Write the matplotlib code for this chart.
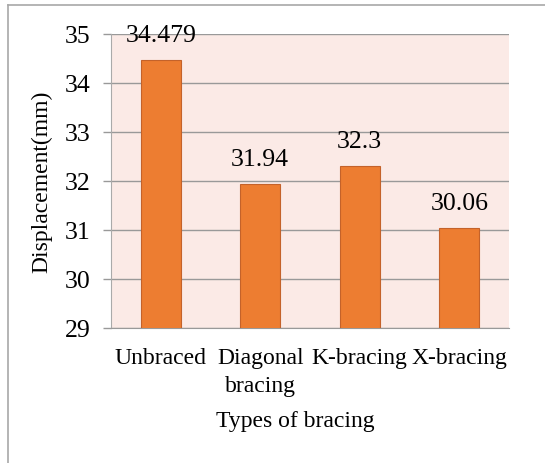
import matplotlib
matplotlib.use("Agg")
import matplotlib.pyplot as plt
from matplotlib.lines import Line2D

categories = ["Unbraced", "Diagonal\nbracing", "K-bracing", "X-bracing"]
values = [34.479, 31.94, 32.3, 31.05]
value_labels = ["34.479", "31.94", "32.3", "30.06"]
yticks = [29, 30, 31, 32, 33, 34, 35]

W, H = 545, 464
plt.rcParams['font.family'] = ['Liberation Serif', 'DejaVu Serif']
fig = plt.figure(figsize=(W / 100, H / 100), dpi=100)
fig.patch.set_facecolor('white')

left, right, top, bottom = 111, 509, 35, 329
ax = fig.add_axes([left / W, (H - bottom) / H, (right - left) / W, (bottom - top) / H])
ax.set_facecolor('#FBEAE6')

x = list(range(len(categories)))
ax.bar(x, values, width=0.40, color='#ED7D31', edgecolor='#C4622A', linewidth=0.8, zorder=3)
ax.set_xlim(-0.5, len(categories) - 0.5)
ax.set_ylim(29, 35)
ax.set_yticks(yticks)
ax.set_yticklabels([str(t) for t in yticks], fontsize=18.5)
ax.set_xticks(x)
ax.set_xticklabels(categories, fontsize=17, linespacing=1.4)
ax.tick_params(axis='x', length=0, pad=14)
ax.tick_params(axis='y', length=6, width=1, color='#999999', pad=9)
ax.grid(axis='y', color='#999999', linewidth=1, zorder=1)
ax.set_axisbelow(True)
for s in ['top', 'right']:
    ax.spines[s].set_visible(False)
ax.spines['left'].set_color('#AAAAAA')
ax.spines['bottom'].set_color('#999999')

for xi, v, lab in zip(x, values, value_labels):
    ax.annotate(lab, (xi, v), xytext=(0, 18), textcoords='offset points',
                ha='center', va='center', fontsize=18.5, zorder=4, annotation_clip=False)

fig.text(295.5 / W, 1 - 422 / H, "Types of bracing", ha='center', va='center', fontsize=17)
fig.text(42 / W, 1 - 182 / H, "Displacement(mm)", ha='center', va='center', rotation=90, fontsize=17)

fig.add_artist(Line2D([8 / W, 8 / W], [0, 1 - 6 / H], transform=fig.transFigure, color='#A8A8A8', linewidth=1.2))
fig.add_artist(Line2D([8 / W, 1], [1 - 6 / H, 1 - 6 / H], transform=fig.transFigure, color='#A8A8A8', linewidth=1.2))

fig.savefig("out.png", dpi=100)
